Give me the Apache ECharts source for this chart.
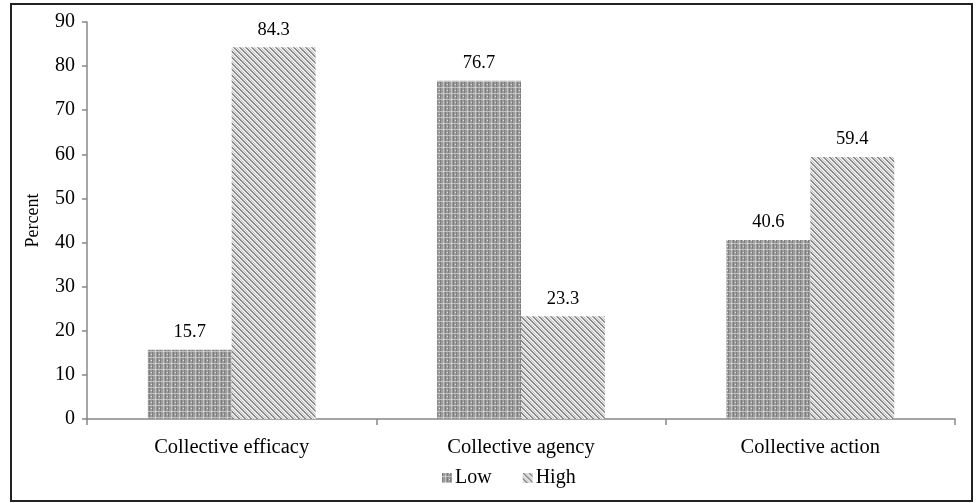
<!DOCTYPE html>
<html><head><meta charset="utf-8">
<script src="https://cdn.jsdelivr.net/npm/echarts@6/dist/echarts.min.js"></script>
<style>html,body{margin:0;padding:0;background:#fff}#c{width:976px;height:503px}</style>
</head><body><div id="c"></div>
<script>
const categories = ['Collective efficacy', 'Collective agency', 'Collective action'];
const lowValues = [15.7, 76.7, 40.6];
const highValues = [84.3, 23.3, 59.4];
const yTicks = [0, 10, 20, 30, 40, 50, 60, 70, 80, 90];

function lowPattern() {
  const c = document.createElement('canvas'); c.width = 8; c.height = 6;
  const g = c.getContext('2d');
  g.fillStyle = '#9c9c9c'; g.fillRect(0, 0, 8, 6);
  g.fillStyle = '#7e7e7e'; g.fillRect(0, 0, 1, 6); g.fillRect(5, 0, 1, 6);
  g.fillStyle = '#c0c0c0'; g.fillRect(3, 0, 1, 6); g.fillRect(0, 3, 8, 1);
  g.fillStyle = '#e6e6e6'; g.fillRect(3, 3, 1, 1); g.fillRect(7, 0, 1, 1);
  return c;
}
function highPattern() {
  const c = document.createElement('canvas'); c.width = 6; c.height = 6;
  const g = c.getContext('2d');
  g.fillStyle = '#ececec'; g.fillRect(0, 0, 6, 6);
  g.fillStyle = '#8a8a8a';
  for (let i = 0; i < 6; i++) { g.fillRect(i, i, 1, 1); g.fillRect((i + 1) % 6, i, 1, 1); }
  g.fillStyle = '#c2c2c2';
  for (let i = 0; i < 6; i++) { g.fillRect((i + 3) % 6, i, 1, 1); }
  return c;
}
const lowFill = { image: lowPattern(), repeat: 'repeat' };
const highFill = { image: highPattern(), repeat: 'repeat' };

const chart = echarts.init(document.getElementById('c'));
const font = '"Liberation Serif", "Times New Roman", serif';
chart.setOption({
  animation: false,
  textStyle: { fontFamily: font },
  graphic: [{
    type: 'rect', shape: { x: 11, y: 4, width: 961, height: 497 },
    style: { fill: 'none', stroke: '#222', lineWidth: 2 }, silent: true
  }],
  grid: { left: 87, right: 21, top: 22, bottom: 84 },
  legend: {
    top: 463, left: 437, itemWidth: 10, itemHeight: 10, itemGap: 31,
    icon: 'rect',
    textStyle: { fontFamily: font, fontSize: 20, color: '#000', padding: [0, 0, 0, -2] },
    data: ['Low', 'High']
  },
  xAxis: {
    type: 'category', data: categories,
    axisLine: { lineStyle: { color: '#888', width: 1.5 } },
    axisTick: { show: true, length: 6, lineStyle: { color: '#888', width: 1.5 } },
    axisLabel: { fontFamily: font, fontSize: 20.5, color: '#000', margin: 18 }
  },
  yAxis: {
    type: 'value', min: 0, max: 90, interval: 10,
    name: 'Percent', nameLocation: 'middle', nameGap: 45, nameRotate: 90,
    nameTextStyle: { fontFamily: font, fontSize: 18, color: '#000' },
    axisLine: { show: true, lineStyle: { color: '#888', width: 1.5 } },
    axisTick: { show: true, length: 5, lineStyle: { color: '#888', width: 1.5 } },
    splitLine: { show: false },
    axisLabel: { fontFamily: font, fontSize: 20, color: '#000', margin: 12,
      formatter: v => yTicks.includes(v) ? String(v) : '' }
  },
  series: [
    { name: 'Low', type: 'bar', data: lowValues, barGap: '0%', barCategoryGap: '42%',
      itemStyle: { color: lowFill },
      label: { show: true, position: 'top', distance: 8, fontFamily: font, fontSize: 18.5, color: '#000' } },
    { name: 'High', type: 'bar', data: highValues,
      itemStyle: { color: highFill },
      label: { show: true, position: 'top', distance: 8, fontFamily: font, fontSize: 18.5, color: '#000' } }
  ]
});
</script></body></html>
